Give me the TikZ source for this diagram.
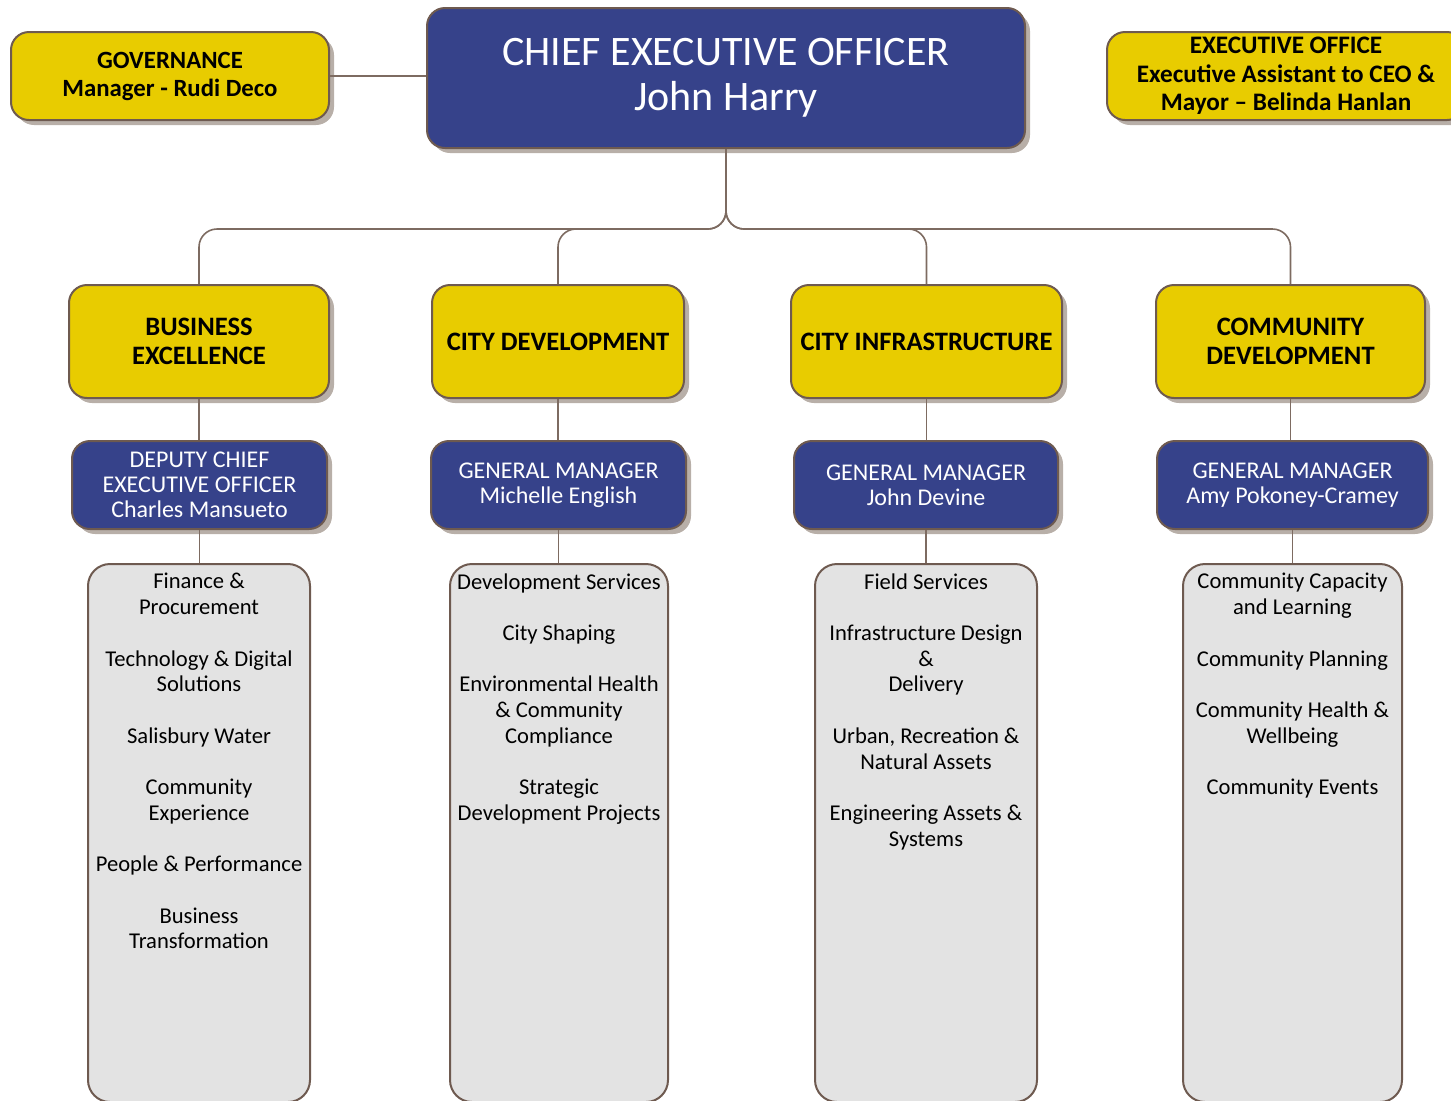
\documentclass[tikz,border=0pt]{standalone}
\usepackage{fontspec}
\setmainfont{Carlito}
\usepackage{tikz}
\usetikzlibrary{shadows}

\definecolor{deptyellow}{HTML}{E8CC00}
\definecolor{ceoblue}{HTML}{36428A}
\definecolor{unitgrey}{HTML}{E3E3E3}
\definecolor{edgebrown}{HTML}{6E5A50}
\definecolor{shadowgrey}{HTML}{B8AFA8}

\begin{document}
\begin{tikzpicture}[x=0.5pt, y=-0.5pt,
    box/.style={draw=edgebrown, line width=1pt, rounded corners=9pt, align=center,
      inner sep=2pt, drop shadow={shadow xshift=2.5pt, shadow yshift=-2.5pt, fill=shadowgrey, opacity=1}},
    yellowbox/.style={box, fill=deptyellow, text=black, font=\fontsize{13.3}{14.5}\selectfont\bfseries},
    bluebox/.style={box, fill=ceoblue, text=white, font=\fontsize{12}{12.6}\selectfont},
    unitbox/.style={draw=edgebrown, line width=1pt, rounded corners=11pt, fill=unitgrey},
    unittext/.style={align=center, anchor=north, inner sep=0pt, font=\fontsize{11.3}{12.85}\selectfont},
    conn/.style={draw=edgebrown!90, line width=0.8pt}]

  \useasboundingbox (0,0) rectangle (1451,1100);

  \node[bluebox, minimum width=299pt, minimum height=70pt,
        font=\fontsize{21}{22.5}\selectfont] (ceo) at (726,78)
        {CHIEF EXECUTIVE OFFICER\\John Harry};
  \node[yellowbox, minimum width=159pt, minimum height=44pt, font=\fontsize{12.4}{14}\selectfont\bfseries] (gov) at (170,76)
        {GOVERNANCE\\Manager - Rudi Deco};
  \node[yellowbox, minimum width=179pt, minimum height=44pt, font=\fontsize{12.6}{14.25}\selectfont\bfseries] (exec) at (1286,76)
        {EXECUTIVE OFFICE\\Executive Assistant to CEO \&\\Mayor -- Belinda Hanlan};

  \node[yellowbox, minimum width=130pt, minimum height=56.5pt] (be) at (199,341.5)
        {BUSINESS\\EXCELLENCE};
  \node[yellowbox, minimum width=126pt, minimum height=56.5pt] (cd) at (558,341.5)
        {CITY DEVELOPMENT};
  \node[yellowbox, minimum width=135.5pt, minimum height=56.5pt] (ci) at (926.5,341.5)
        {CITY INFRASTRUCTURE};
  \node[yellowbox, minimum width=134.5pt, minimum height=56.5pt] (comd) at (1290.5,341.5)
        {COMMUNITY\\DEVELOPMENT};

  \node[bluebox, minimum width=127.5pt, minimum height=44pt] (dceo) at (199.5,485)
        {DEPUTY CHIEF\\EXECUTIVE OFFICER\\Charles Mansueto};
  \node[bluebox, minimum width=127.5pt, minimum height=44pt] (gmcd) at (558.5,485)
        {GENERAL MANAGER\\Michelle English};
  \node[bluebox, minimum width=132pt, minimum height=44pt] (gmci) at (926,485)
        {GENERAL MANAGER\\John Devine};
  \node[bluebox, minimum width=135.5pt, minimum height=44pt] (gmcomd) at (1292.5,485)
        {GENERAL MANAGER\\Amy Pokoney-Cramey};

  \node[unitbox, minimum width=111pt, minimum height=269pt] (ube) at (199,833) {};
  \node[unitbox, minimum width=109pt, minimum height=269pt] (ucd) at (559,833) {};
  \node[unitbox, minimum width=111pt, minimum height=269pt] (uci) at (926,833) {};
  \node[unitbox, minimum width=109.5pt, minimum height=269pt] (ucomd) at (1292.5,833) {};

  \node[unittext] (tbe) at (199,573)
        {Finance \&\\Procurement\\[12.85pt]Technology \& Digital\\Solutions\\[12.85pt]Salisbury Water\\[12.85pt]Community\\Experience\\[12.85pt]People \& Performance\\[12.85pt]Business\\Transformation};
  \node[unittext] (tcd) at (559,573)
        {Development Services\\[12.85pt]City Shaping\\[12.85pt]Environmental Health\\\& Community\\Compliance\\[12.85pt]Strategic\\Development Projects};
  \node[unittext] (tci) at (926,573)
        {Field Services\\[12.85pt]Infrastructure Design\\\&\\Delivery\\[12.85pt]Urban, Recreation \&\\Natural Assets\\[12.85pt]Engineering Assets \&\\Systems};
  \node[unittext] (tcomd) at (1292.5,573)
        {Community Capacity\\and Learning\\[12.85pt]Community Planning\\[12.85pt]Community Health \&\\Wellbeing\\[12.85pt]Community Events};

  \draw[conn] (gov.east) -- (gov.east -| ceo.west);
  \draw[conn, rounded corners=9pt] (ceo.south) -- ++(0,80) -| (be.north);
  \draw[conn, rounded corners=9pt] (ceo.south) -- ++(0,80) -| (cd.north);
  \draw[conn, rounded corners=9pt] (ceo.south) -- ++(0,80) -| (ci.north);
  \draw[conn, rounded corners=9pt] (ceo.south) -- ++(0,80) -| (comd.north);

  \foreach \d/\g/\u in {be/dceo/ube, cd/gmcd/ucd, ci/gmci/uci, comd/gmcomd/ucomd}{
    \draw[conn] (\d.south) -- (\d.south |- \g.north);
    \draw[conn] (\g.south) -- (\g.south |- \u.north);
  }

\end{tikzpicture}
\end{document}
